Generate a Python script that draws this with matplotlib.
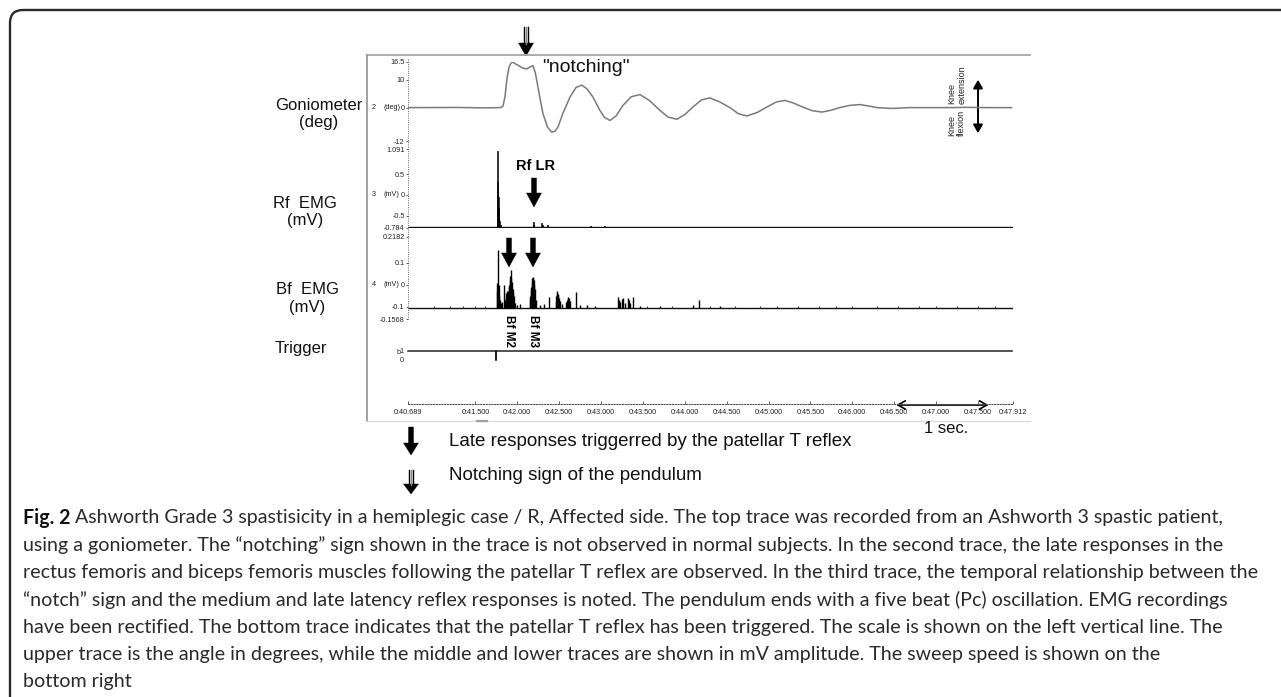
import matplotlib
matplotlib.use('Agg')
import matplotlib.pyplot as plt
import matplotlib.transforms as mtransforms
from matplotlib.patches import Polygon, FancyArrowPatch, PathPatch
from matplotlib.path import Path

plt.rcParams['font.family'] = ['Liberation Sans', 'DejaVu Sans']

# ---------------- data ----------------
time_range = (40.689, 47.912)
time_ticks = [40.689, 41.5, 42.0, 42.5, 43.0, 43.5, 44.0, 44.5, 45.0, 45.5,
              46.0, 46.5, 47.0, 47.5, 47.912]
time_labels = ['0:40.689', '0:41.500', '0:42.000', '0:42.500', '0:43.000',
               '0:43.500', '0:44.000', '0:44.500', '0:45.000', '0:45.500',
               '0:46.000', '0:46.500', '0:47.000', '0:47.500', '0:47.912']

gonio_t = [40.689, 41.30, 41.60, 41.800, 41.829, 41.853, 41.875, 41.900, 41.925, 41.948,
           41.985, 42.020, 42.065, 42.111, 42.150, 42.187, 42.215, 42.246, 42.276, 42.306,
           42.360, 42.410, 42.450, 42.485, 42.545, 42.629, 42.700, 42.768, 42.830, 42.903,
           42.986, 43.040, 43.106, 43.180, 43.261, 43.360, 43.464, 43.580, 43.703, 43.800,
           43.905, 44.000, 44.096, 44.200, 44.299, 44.420, 44.538, 44.640, 44.740, 44.860,
           44.979, 45.090, 45.194, 45.300, 45.409, 45.520, 45.636, 45.740, 45.850, 45.970,
           46.089, 46.190, 46.292, 46.480, 46.684, 47.200, 47.350, 47.600, 47.901]
gonio_deg = [0, 0.05, -0.1, 0, 0.5, 4.0, 10.0, 14.5, 16.0, 16.3,
             15.6, 15.0, 14.2, 13.9, 14.6, 15.1, 12.5, 7.5, 2.5, -2.1,
             -7.0, -8.8, -8.5, -7.0, -2.0, 3.8, 7.2, 8.1, 6.8, 3.8,
             -1.0, -3.5, -4.6, -3.0, 0.8, 3.9, 4.7, 2.5, -1.0, -3.4,
             -4.2, -2.5, 0.2, 2.8, 3.5, 2.0, 0.0, -2.2, -3.0, -1.8,
             0.2, 2.0, 2.6, 1.6, 0.2, -1.1, -1.6, -1.0, 0.0, 0.8,
             1.1, 0.6, 0.0, -0.3, 0.0, 0.0, 0.1, 0.0, 0.0]
gonio_ylim = (-12, 16.5)
gonio_yticks = [16.5, 10, 0, -12]
gonio_yticklabels = ['16.5', '10', '0', '-12']

rf_ylim = (-0.784, 1.091)
rf_yticks = [1.091, 0.5, 0, -0.5, -0.784]
rf_yticklabels = ['1.091', '0.5', '0', '-0.5', '-0.784']
rf_base = -0.775
rf_spike_t = [41.766, 41.770, 41.774, 41.778, 41.782, 41.787, 41.793, 41.800,
              42.196, 42.204, 42.300, 42.306, 42.362, 42.884, 43.045]
rf_spike_v = [-0.70, 0.30, 1.05, -0.05, -0.32, -0.40, -0.62, -0.72,
              -0.64, -0.72, -0.68, -0.73, -0.72, -0.755, -0.755]

bf_ylim = (-0.1568, 0.2182)
bf_yticks = [0.2182, 0.1, 0, -0.1, -0.1568]
bf_yticklabels = ['0.2182', '0.1', '0', '-0.1', '-0.1568']
bf_base = -0.105
bf_spike_t = [41.757, 41.763, 41.769, 41.775, 41.781, 41.787, 41.793, 41.805, 41.817, 41.841,
              41.852, 41.864, 41.870, 41.876, 41.882, 41.888, 41.894, 41.900, 41.906, 41.912,
              41.918, 41.924, 41.930, 41.936, 41.942, 41.948, 41.954, 41.960, 41.972, 41.996,
              42.031, 42.151, 42.157, 42.163, 42.169, 42.175, 42.181, 42.187, 42.193, 42.199,
              42.205, 42.211, 42.223, 42.270, 42.318, 42.378, 42.461, 42.467, 42.473, 42.479,
              42.485, 42.491, 42.497, 42.509, 42.533, 42.581, 42.599, 42.605, 42.611, 42.617,
              42.629, 42.700, 42.748, 42.831, 42.927, 43.201, 43.213, 43.225, 43.249, 43.261,
              43.285, 43.321, 43.333, 43.345, 43.381, 43.464, 43.703, 44.097, 44.168, 44.419]
bf_spike_v = [-0.03, 0.005, 0.158, -0.02, 0.0, -0.05, -0.07, -0.085, -0.08, 0.0,
              -0.07, -0.06, -0.04, -0.03, -0.05, -0.045, -0.03, -0.01, 0.0, 0.02,
              0.04, 0.066, 0.03, 0.01, -0.02, -0.02, -0.04, -0.05, -0.085, -0.095,
              -0.09, -0.07, -0.05, -0.03, -0.01, 0.01, 0.03, 0.036, 0.03, 0.02,
              0.0, -0.02, -0.07, -0.095, -0.09, -0.055, -0.08, -0.05, -0.03, -0.04,
              -0.045, -0.05, -0.06, -0.075, -0.09, -0.08, -0.07, -0.06, -0.055, -0.06,
              -0.075, -0.032, -0.095, -0.095, -0.098, -0.055, -0.07, -0.08, -0.065, -0.062,
              -0.085, -0.06, -0.07, -0.085, -0.058, -0.097, -0.098, -0.095, -0.072, -0.099]
bf_noise_t = [41.00, 41.20, 41.35, 41.50, 41.62, 43.55, 43.85, 44.30, 44.60, 44.90, 45.10,
              45.35, 45.60, 45.80, 46.00, 46.30, 46.55, 46.80, 47.00, 47.25, 47.50, 47.70]
bf_noise_v = [-0.099, -0.099, -0.098, -0.099, -0.098, -0.098, -0.099, -0.098, -0.099, -0.098, -0.099,
              -0.098, -0.099, -0.098, -0.099, -0.098, -0.099, -0.098, -0.099, -0.098, -0.099, -0.098]

trig_t = [40.689, 41.742, 41.742, 41.742, 47.901]
trig_v = [1, 1, 0, 1, 1]

notch_t = 42.104
rf_lr_t = 42.199
bf_m2_t = 41.901
bf_m3_t = 42.187
scale_bar_t = (46.49, 47.66)

caption_bold = 'Fig. 2'
caption_lines = [
    ' Ashworth Grade 3 spastisicity in a hemiplegic case / R, Affected side. The top trace was recorded from an Ashworth 3 spastic patient,',
    'using a goniometer. The \u201cnotching\u201d sign shown in the trace is not observed in normal subjects. In the second trace, the late responses in the',
    'rectus femoris and biceps femoris muscles following the patellar T reflex are observed. In the third trace, the temporal relationship between the',
    '\u201cnotch\u201d sign and the medium and late latency reflex responses is noted. The pendulum ends with a five beat (Pc) oscillation. EMG recordings',
    'have been rectified. The bottom trace indicates that the patellar T reflex has been triggered. The scale is shown on the left vertical line. The',
    'upper trace is the angle in degrees, while the middle and lower traces are shown in mV amplitude. The sweep speed is shown on the',
    'bottom right',
]

# ---------------- layout ----------------
W, H, DPI = 1281, 697, 100
fig = plt.figure(figsize=(W / DPI, H / DPI), dpi=DPI)
fig.patch.set_facecolor('white')

ov = fig.add_axes([0, 0, 1, 1])
ov.set_xlim(0, W)
ov.set_ylim(H, 0)
ov.axis('off')

X0, X1 = 407.5, 1012.5


def px_axes(y_top, y_bot, x0=X0, x1=X1):
    ax = fig.add_axes([x0 / W, 1 - y_bot / H, (x1 - x0) / W, (y_bot - y_top) / H])
    ax.set_facecolor('none')
    for s in ax.spines.values():
        s.set_visible(False)
    ax.set_xlim(*time_range)
    ax.set_xticks([])
    return ax


def left_scale(ax, ticks, labels):
    ax.set_yticks(ticks)
    ax.set_yticklabels(labels)
    ax.tick_params(axis='y', direction='out', length=1.5, width=0.5, pad=0.6,
                   labelsize=5.2, colors='#222222')


# outer rounded border (top + left)
verts = [(10, H), (10, 23), (10, 10), (23, 10), (W, 10)]
codes = [Path.MOVETO, Path.LINETO, Path.CURVE3, Path.CURVE3, Path.LINETO]
ov.add_patch(PathPatch(Path(verts, codes), fill=False, lw=1.7, edgecolor='#2b2b2b'))

# graph frame
ov.plot([367, 1030], [55, 55], color='#a6a6a6', lw=1.3)
ov.plot([367, 367], [55, 421], color='#9a9a9a', lw=1.3)
ov.plot([367, 1030], [421, 421], color='#dcdcdc', lw=1.0)
ov.plot([477, 487], [421, 421], color='#a0a0a0', lw=1.6)
# dotted scale line
ov.plot([X0, X0], [59, 319], color='#666666', lw=0.7, ls=(0, (1, 1.3)))

# Goniometer
ax_g = px_axes(61.7, 141.0)
ax_g.set_ylim(*gonio_ylim)
ax_g.plot(gonio_t, gonio_deg, color='#7a7a7a', lw=1.1, solid_joinstyle='round')
left_scale(ax_g, gonio_yticks, gonio_yticklabels)

# Rf EMG
ax_r = px_axes(149.3, 227.7)
ax_r.set_ylim(*rf_ylim)
ax_r.hlines(rf_base, *time_range, color='#111111', lw=1.0)
ax_r.vlines(rf_spike_t, rf_base, rf_spike_v, color='black', lw=1.1)
left_scale(ax_r, rf_yticks, rf_yticklabels)

# Bf EMG
ax_b = px_axes(236.7, 319.0)
ax_b.set_ylim(*bf_ylim)
ax_b.hlines(bf_base, *time_range, color='#111111', lw=1.0)
ax_b.vlines(bf_spike_t, bf_base, bf_spike_v, color='black', lw=1.0)
ax_b.vlines(bf_noise_t, bf_base, bf_noise_v, color='#333333', lw=0.8)
left_scale(ax_b, bf_yticks, bf_yticklabels)

# Trigger
ax_t = px_axes(351.0, 359.5)
ax_t.set_ylim(0, 1)
ax_t.plot(trig_t, trig_v, color='#222222', lw=1.1, clip_on=False)
ax_t.set_yticks([0, 1])
ax_t.set_yticklabels(['0', '1'])
ax_t.tick_params(axis='y', length=0, pad=3, labelsize=5.2, colors='#222222')

# time axis
ax_x = px_axes(395, 404.3)
ax_x.spines['bottom'].set_visible(True)
ax_x.spines['bottom'].set_linestyle((0, (1, 1.5)))
ax_x.spines['bottom'].set_color('#555555')
ax_x.spines['bottom'].set_linewidth(0.8)
ax_x.set_yticks([])
ax_x.set_xticks(time_ticks)
ax_x.set_xticklabels(time_labels)
ax_x.tick_params(axis='x', direction='in', length=2, width=0.5, pad=3.2,
                 labelsize=5.2, colors='#222222')


def to_px(ax, t):
    disp = ax.transData.transform((t, 0))
    return ov.transData.inverted().transform(disp)[0]


# panel side labels
lab_kw = dict(fontsize=12, va='center', ha='left', multialignment='center',
              linespacing=1.25, color='#111111')
ov.text(275, 114, 'Goniometer\n(deg)', **lab_kw)
ov.text(273, 212, 'Rf  EMG\n(mV)', **lab_kw)
ov.text(276, 298.5, 'Bf  EMG\n(mV)', **lab_kw)
ov.text(275, 349, 'Trigger', **lab_kw)

# channel numbers and units at zero level
small = dict(fontsize=5.2, va='center', color='#222222')
for ax, num, unit in [(ax_g, '2', '(deg)'), (ax_r, '3', '(mV)'), (ax_b, '4', '(mV)')]:
    tr = mtransforms.blended_transform_factory(ov.transData, ax.transData)
    ax.text(371.5, 0, num, transform=tr, ha='left', clip_on=False, **small)
    ax.text(391.5, 0, unit, transform=tr, ha='center', clip_on=False, **small)
ov.text(398.5, 353, 'b', ha='center', **small)


# arrows
def solid_arrow(x, y_top, y_tip, shaft_w=5, head_w=15, head_len=13):
    yh = y_tip - head_len
    pts = [(x - shaft_w / 2, y_top), (x + shaft_w / 2, y_top), (x + shaft_w / 2, yh),
           (x + head_w / 2, yh), (x, y_tip), (x - head_w / 2, yh), (x - shaft_w / 2, yh)]
    ov.add_patch(Polygon(pts, closed=True, facecolor='black', edgecolor='black', lw=0.3))


def triple_arrow(x, y_top, y_tip, head_w=15, head_len=13):
    yh = y_tip - head_len
    for dx, c in [(-2.3, 'black'), (0, '#888888'), (2.3, 'black')]:
        ov.plot([x + dx, x + dx], [y_top, yh + 1], color=c, lw=1.0)
    pts = [(x - head_w / 2, yh), (x + head_w / 2, yh), (x, y_tip)]
    ov.add_patch(Polygon(pts, closed=True, facecolor='black', edgecolor='black', lw=0.3))


xn = to_px(ax_g, notch_t)
triple_arrow(xn, 27, 56)
ov.text(542, 67, '"notching"', fontsize=14, va='center', ha='left', color='#111111')

xr = to_px(ax_r, rf_lr_t)
ov.text(535, 166, 'Rf LR', fontsize=10.5, fontweight='bold', va='center', ha='center')
solid_arrow(xr, 178, 207, shaft_w=5, head_w=15, head_len=14)

for t, lab in [(bf_m2_t, 'Bf M2'), (bf_m3_t, 'Bf M3')]:
    x = to_px(ax_b, t)
    solid_arrow(x, 238, 267, shaft_w=5, head_w=15, head_len=14)
    ov.text(x, 331, lab, rotation=270, fontsize=8.5, fontweight='bold',
            ha='center', va='center')

# knee annotation
ov.text(957, 85, 'Knee\nextension', rotation=90, fontsize=6.5, ha='center', va='center',
        multialignment='left', linespacing=1.1, color='#222222')
ov.text(957, 122.5, 'Knee\nflexion', rotation=90, fontsize=6.5, ha='center', va='center',
        multialignment='left', linespacing=1.1, color='#222222')
ov.add_patch(FancyArrowPatch((978, 77), (978, 136),
                             arrowstyle='<|-|>,head_length=0.35,head_width=0.2',
                             mutation_scale=14, lw=1.4, color='black'))

# 1 sec scale bar
xs0 = to_px(ax_x, scale_bar_t[0])
xs1 = to_px(ax_x, scale_bar_t[1])
ov.add_patch(FancyArrowPatch((xs0, 405), (xs1, 405),
                             arrowstyle='<->,head_length=0.45,head_width=0.25',
                             mutation_scale=12, lw=1.2, color='black'))
ov.text(946, 428.5, '1 sec.', fontsize=12, ha='center', va='center', color='#111111')

# legend
solid_arrow(411, 427, 455, shaft_w=5, head_w=15, head_len=12)
ov.text(449, 441.7, 'Late responses triggerred by the patellar T reflex', fontsize=13.5,
        va='center', ha='left', color='#111111')
triple_arrow(411, 470, 494, head_w=15, head_len=10)
ov.text(449, 475, 'Notching sign of the pendulum', fontsize=13.5,
        va='center', ha='left', color='#111111')

# caption: one font size, chosen so the widest line fits the reference width
CAP_FONT = ['Lato', 'Open Sans', 'DejaVu Sans']
renderer = fig.canvas.get_renderer()
widths = []
pb = ov.text(0, 0, caption_bold, fontsize=10, fontweight='bold', family=CAP_FONT)
wb = pb.get_window_extent(renderer).width
pb.remove()
for i, line in enumerate(caption_lines):
    p = ov.text(0, 0, line, fontsize=10, family=CAP_FONT)
    w = p.get_window_extent(renderer).width + (wb if i == 0 else 0)
    widths.append(w)
    p.remove()
fs = 10 * 1238 / max(widths)

cap_x, cap_y0, cap_dy = 23, 518, 27.3
tb = ov.text(cap_x, cap_y0, caption_bold, fontsize=fs, fontweight='bold', family=CAP_FONT,
             va='center', ha='left', color='#111111')
bb = tb.get_window_extent(renderer)
x_after = ov.transData.inverted().transform((bb.x1, 0))[0]
for i, line in enumerate(caption_lines):
    x = x_after if i == 0 else cap_x
    ov.text(x, cap_y0 + i * cap_dy, line, fontsize=fs, family=CAP_FONT,
            va='center', ha='left', color='#2a2a2a')

fig.savefig('out.png', dpi=DPI, facecolor='white')
